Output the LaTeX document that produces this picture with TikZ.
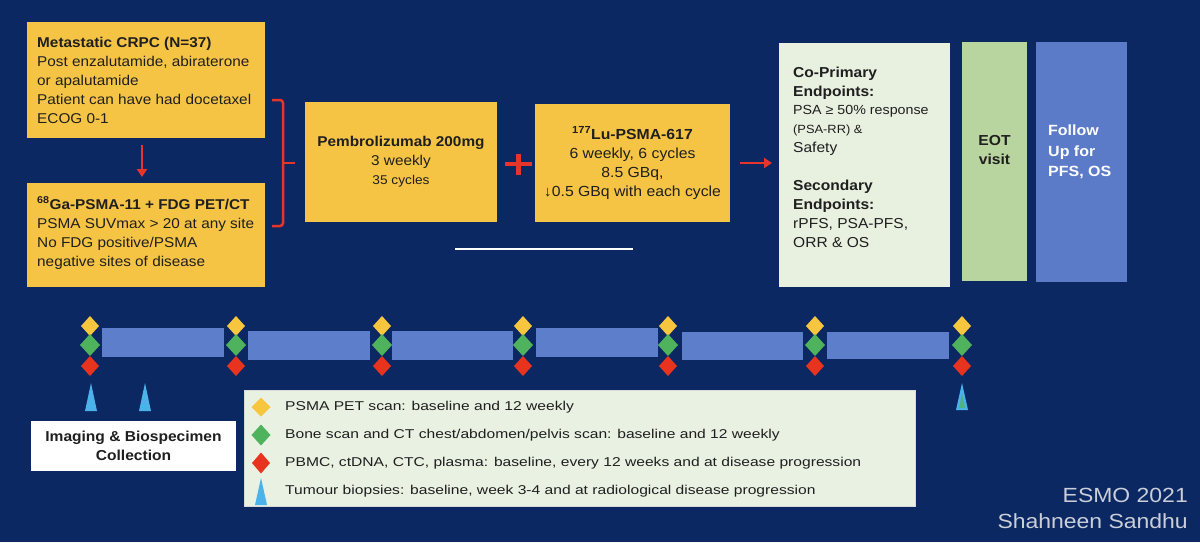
\documentclass[tikz,border=0pt]{standalone}
\usepackage{fontspec}
\setmainfont{Liberation Sans}[FakeStretch=1.08]
\newfontfamily\legfont{Liberation Sans}[FakeStretch=1.22]
\newfontfamily\esmofont{Liberation Sans}[FakeStretch=1.12]
\usetikzlibrary{arrows.meta,shapes.geometric}
\newcommand\myfs[2]{\fontsize{#1}{#2}\selectfont}
\definecolor{bgc}{HTML}{0B2862}
\definecolor{ylw}{HTML}{F6C444}
\definecolor{redc}{HTML}{E8352B}
\definecolor{endc}{HTML}{E8F0E0}
\definecolor{eotc}{HTML}{B8D59F}
\definecolor{fupc}{HTML}{5B7BC9}
\definecolor{barc}{HTML}{5D7ECB}
\definecolor{dyel}{HTML}{F8C63E}
\definecolor{dgrn}{HTML}{4FB25C}
\definecolor{dred}{HTML}{E8331F}
\definecolor{trib}{HTML}{4BB2EA}
\definecolor{legc}{HTML}{E9F1E2}
\definecolor{txtc}{HTML}{1F1F1F}
\definecolor{esmoc}{HTML}{C9CED9}
\begin{document}
\begin{tikzpicture}[x=1pt,y=-1pt,
  rbox/.style={anchor=north west, inner sep=0pt, outer sep=0pt},
  ybox/.style={rbox, fill=ylw, text=txtc},
  redarr/.style={draw=redc, line width=2.2pt, -{Triangle[width=10pt,length=8pt]}},
  dmd/.style 2 args={diamond, inner sep=0pt, outer sep=0pt, minimum width=#1, minimum height=#2},
  tbar/.style={rbox, fill=barc},
  ltxt/.style={anchor=west, align=left, inner sep=0pt, text=txtc, font=\myfs{14.2}{19}},
  legtxt/.style={anchor=west, inner sep=0pt, font=\legfont\myfs{12.8}{15}, text=txtc}
]
\fill[bgc] (0,0) rectangle (1200,542);
\useasboundingbox (0,0) rectangle (1200,542);

% eligibility boxes
\node[ybox, minimum width=238pt, minimum height=116pt] (crpc) at (27,22) {};
\node[ltxt] (crpct) at (37,80.5)
 {\textbf{Metastatic CRPC (N=37)}\\Post enzalutamide, abiraterone\\or apalutamide\\Patient can have had docetaxel\\ECOG 0-1};
\node[ybox, minimum width=238pt, minimum height=104pt] (gabox) at (27,183) {};
\node[ltxt] (gatxt) at (37,233)
 {\textbf{\textsuperscript{68}Ga-PSMA-11 + FDG PET/CT}\\PSMA SUVmax > 20 at any site\\No FDG positive/PSMA\\negative sites of disease};
\draw[redarr] ([xshift=-4pt,yshift=-7pt]crpc.south) -- ([xshift=-4pt,yshift=6pt]gabox.north);

% bracket
\draw[redc, line width=2.5pt, rounded corners=3pt] (272,100) -- (283,100) -- (283,226) -- (272,226);
\draw[redc, line width=2.5pt] (283,163) -- (295,163);

% treatment
\node[ybox, minimum width=192pt, minimum height=120pt, align=center, font=\myfs{14.2}{19}] (pembro) at (305,102)
 {\textbf{Pembrolizumab 200mg}\\3 weekly\\{\myfs{12.7}{17}35 cycles}};
\draw[redc, line width=4.5pt] (505,164) -- (532,164) (518.5,154) -- (518.5,175);
\node[ybox, minimum width=195pt, minimum height=118pt, align=center, font=\myfs{14.6}{19}] (lu) at (535,104)
 {\textbf{\textsuperscript{177}Lu-PSMA-617}\\6 weekly, 6 cycles\\8.5 GBq,\\↓0.5 GBq with each cycle};
\draw[white, line width=2.5pt] (455,249) -- (633,249);

% endpoints
\node[rbox, fill=endc, minimum width=171pt, minimum height=244pt] (endp) at (779,43) {};
\draw[redarr] ([xshift=10pt]lu.east) -- ([xshift=-7pt]lu.east -| endp.west);
\node[anchor=north west, align=left, inner sep=0pt, text=txtc, font=\myfs{14.4}{18.9}] (endt) at (793,66.5)
 {\textbf{Co-Primary}\\\textbf{Endpoints:}\\{\myfs{13.2}{18.9}PSA ≥ 50\% response}\\{\myfs{11.9}{18.9}(PSA-RR) \&}\\Safety\\[18.9pt]\textbf{Secondary}\\\textbf{Endpoints:}\\rPFS, PSA-PFS,\\ORR \& OS};

\node[rbox, fill=eotc, minimum width=65pt, minimum height=239pt] (eot) at (962,42) {};
\node[align=center, inner sep=0pt, font=\bfseries\myfs{14.5}{19}, text=txtc] (eott) at (994.5,150.5) {EOT\\visit};
\node[rbox, fill=fupc, minimum width=91pt, minimum height=240pt] (fup) at (1036,42) {};
\node[anchor=west, align=left, inner sep=0pt, font=\bfseries\myfs{14.8}{20.5}, text=white] (fupt) at (1048,152) {Follow\\Up for\\PFS, OS};

% timeline bars
\node[tbar, minimum width=122pt, minimum height=29pt] (b1) at (102,328) {};
\node[tbar, minimum width=122pt, minimum height=29pt] (b2) at (248,331) {};
\node[tbar, minimum width=121pt, minimum height=29pt] (b3) at (392,331) {};
\node[tbar, minimum width=122pt, minimum height=29pt] (b4) at (536,328) {};
\node[tbar, minimum width=121pt, minimum height=28pt] (b5) at (682,332) {};
\node[tbar, minimum width=122pt, minimum height=27pt] (b6) at (827,332) {};

% timeline diamonds
\foreach \x [count=\i] in {90,236,382,523,668,815,962} {
  \node[dmd={18pt}{20pt}, fill=dyel] (y\i) at (\x,326) {};
  \node[dmd={18pt}{20pt}, fill=dred] (r\i) at (\x,366) {};
  \node[dmd={20pt}{22pt}, fill=dgrn] (g\i) at (\x,345) {};
}
% biopsy triangles
\fill[trib] (91,383) -- (97,411) -- (85,411) -- cycle;
\fill[trib] (145,383) -- (151,411) -- (139,411) -- cycle;
\fill[trib] (962,383) -- (968,410) -- (956,410) -- cycle;
\fill[dgrn!70!trib] (962,393) -- (965,408) -- (959,408) -- cycle;

% imaging label
\node[rbox, fill=white, minimum width=205pt, minimum height=50pt, align=center, font=\bfseries\myfs{14.4}{19}, text=txtc] (img) at (31,421)
 {Imaging \& Biospecimen\\Collection};

% legend
\node[rbox, fill=legc, draw=white!70!gray, line width=0.8pt, minimum width=671pt, minimum height=116pt] (leg) at (244,390) {};
\node[dmd={19pt}{19pt}, fill=dyel] (ly) at (261,407) {};
\node[dmd={19pt}{21pt}, fill=dgrn] (lg) at (261,435) {};
\node[dmd={18pt}{21pt}, fill=dred] (lr) at (261,463) {};
\fill[trib] (261,478) -- (267,505) -- (255,505) -- cycle;
\node[legtxt] (l1) at (285,407) {PSMA PET scan: baseline and 12 weekly};
\node[legtxt] (l2) at (285,435) {Bone scan and CT chest/abdomen/pelvis scan: baseline and 12 weekly};
\node[legtxt] (l3) at (285,463) {PBMC, ctDNA, CTC, plasma: baseline, every 12 weeks and at disease progression};
\node[legtxt] (l4) at (285,491) {Tumour biopsies: baseline, week 3-4 and at radiological disease progression};

% credit
\node[anchor=east, align=right, inner sep=0pt, font=\esmofont\myfs{20.5}{26}, text=esmoc] (esmo) at (1188,508) {ESMO 2021\\Shahneen Sandhu};
\end{tikzpicture}
\end{document}
